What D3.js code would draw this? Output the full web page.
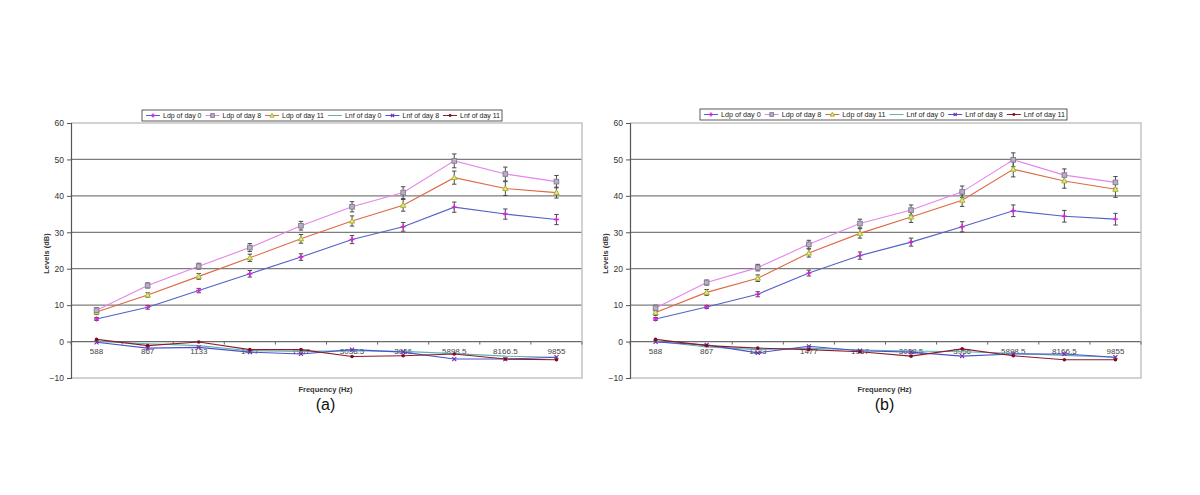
<!DOCTYPE html>
<html>
<head>
<meta charset="utf-8">
<script src="https://cdn.jsdelivr.net/npm/d3@7"></script>
<style>
  body { margin: 0; background: #fff; }
  svg { display: block; font-family: Arial, "Liberation Sans", sans-serif; }
</style>
</head>
<body>
<svg id="chart" width="1200" height="495"></svg>
<script>
// categories (Hz) and axis ticks
var freqs = ["588", "867", "1133", "1477", "1967", "3038.5", "3956", "5898.5", "8166.5", "9855"];
var yTicks = [-10, 0, 10, 20, 30, 40, 50, 60];
var seriesNames = ["Ldp of day 0", "Ldp of day 8", "Ldp of day 11", "Lnf of day 0", "Lnf of day 8", "Lnf of day 11"];

// panel (a)
var aLdp0 = [6.2, 9.4, 14.0, 18.6, 23.2, 28.0, 31.5, 36.9, 35.0, 33.5];
var aLdp0Err = [0.4, 0.5, 0.6, 0.9, 0.9, 1.1, 1.2, 1.4, 1.4, 1.4];
var aLdp8 = [8.6, 15.4, 20.7, 25.8, 31.8, 37.0, 40.9, 49.6, 46.0, 43.9];
var aLdp8Err = [0.7, 0.7, 0.8, 1.1, 1.2, 1.4, 1.6, 1.9, 1.9, 1.7];
var aLdp11 = [8.1, 12.8, 17.9, 23.0, 28.2, 33.1, 37.4, 45.0, 42.0, 40.9];
var aLdp11Err = [0.7, 0.6, 0.8, 1.0, 1.2, 1.4, 1.6, 1.8, 1.9, 1.5];
var aLnf0 = [0.1, -0.6, -1.1, -2.5, -2.7, -2.5, -2.7, -3.3, -4.0, -4.3];
var aLnf8 = [-0.2, -1.8, -1.6, -2.9, -3.4, -2.2, -2.9, -4.8, -4.8, -4.3];
var aLnf11 = [0.6, -1.1, -0.1, -2.2, -2.2, -4.1, -3.9, -3.4, -4.8, -5.0];

// panel (b)
var bLdp0 = [6.2, 9.5, 13.0, 18.8, 23.6, 27.3, 31.5, 35.9, 34.4, 33.6];
var bLdp0Err = [0.4, 0.4, 0.7, 0.8, 1.0, 1.1, 1.4, 1.6, 1.6, 1.6];
var bLdp8 = [9.2, 16.2, 20.3, 26.7, 32.4, 36.1, 41.1, 49.9, 45.7, 43.7];
var bLdp8Err = [0.8, 0.7, 0.9, 1.1, 1.2, 1.4, 1.6, 1.9, 1.7, 1.6];
var bLdp11 = [8.0, 13.5, 17.4, 24.3, 29.7, 34.2, 38.8, 47.3, 44.1, 41.8];
var bLdp11Err = [0.8, 0.8, 0.9, 1.1, 1.3, 1.5, 1.7, 2.1, 2.0, 2.2];
var bLnf0 = [0.1, -1.5, -2.2, -1.8, -2.3, -2.6, -2.8, -3.2, -3.8, -4.3];
var bLnf8 = [-0.1, -0.9, -3.1, -1.3, -2.5, -2.9, -4.0, -3.4, -3.4, -4.3];
var bLnf11 = [0.6, -1.1, -1.8, -2.2, -2.8, -4.0, -2.0, -3.9, -5.0, -5.0];

var styles = [
    { line: "#5262c6", marker: "plus", mcolor: "#d81ed8" },
    { line: "#e484ec", marker: "square", mcolor: "#8a7f98" },
    { line: "#df6844", marker: "triangle", mcolor: "#a6b52a" },
    { line: "#5fb3b0", marker: "none", mcolor: "#5fb3b0" },
    { line: "#4a52cc", marker: "cross", mcolor: "#7a2aa8" },
    { line: "#8a1c2c", marker: "dot", mcolor: "#7a0f1f" }
];

var svg = d3.select("#chart");
svg.append("rect").attr("width", 1200).attr("height", 495).attr("fill", "#fff");

drawPanel(svg, {
    values: [aLdp0, aLdp8, aLdp11, aLnf0, aLnf8, aLnf11],
    errors: [aLdp0Err, aLdp8Err, aLdp11Err, null, null, null],
    left: 71, right: 582, top: 123, bottom: 378,
    legend: { x: 142, y: 110, w: 360, h: 11 },
    label: "(a)"
});

drawPanel(svg, {
    values: [bLdp0, bLdp8, bLdp11, bLnf0, bLnf8, bLnf11],
    errors: [bLdp0Err, bLdp8Err, bLdp11Err, null, null, null],
    left: 630, right: 1141, top: 123, bottom: 378,
    legend: { x: 700, y: 109, w: 367, h: 11 },
    label: "(b)"
});

function drawPanel(svg, p) {
    var xs = d3.scalePoint().domain(freqs).range([p.left, p.right]).padding(0.5);
    var ys = d3.scaleLinear().domain([-10, 60]).range([p.bottom, p.top]);
    var step = xs.step();
    var g = svg.append("g");

    // gridlines
    g.selectAll(".grid")
        .data(yTicks.filter(d => d > -10 && d < 60))
        .enter().append("line")
        .attr("x1", p.left).attr("x2", p.right)
        .attr("y1", d => ys(d)).attr("y2", d => ys(d))
        .attr("stroke", d => d == 0 ? "#6a6a6a" : "#7d7d7d")
        .attr("stroke-width", 1.3);

    // plot border (top, right, bottom)
    g.append("path")
        .attr("d", `M${p.left},${p.top}H${p.right}V${p.bottom}H${p.left}`)
        .attr("fill", "none").attr("stroke", "#c4c4c4").attr("stroke-width", 1.5);

    // y axis
    var yAxis = d3.axisLeft(ys).tickValues(yTicks).tickSize(4).tickPadding(3);
    var ya = g.append("g").attr("transform", `translate(${p.left},0)`).call(yAxis);
    ya.select(".domain").attr("stroke", "#555").attr("stroke-width", 1.2);
    ya.selectAll(".tick line").attr("stroke", "#555");
    ya.selectAll("text").attr("fill", "#333").style("font-size", "8.5px");

    g.append("text")
        .attr("transform", `translate(${p.left - 22},${(p.top + p.bottom) / 2 + 3}) rotate(-90)`)
        .attr("text-anchor", "middle")
        .style("font-size", "7.5px").style("font-weight", "bold").attr("fill", "#333")
        .text("Levels (dB)");

    // category axis crossing at 0
    var boundaries = d3.range(freqs.length + 1).map(i => p.left + i * step);
    g.selectAll(".xtick").data(boundaries).enter().append("line")
        .attr("x1", d => d).attr("x2", d => d)
        .attr("y1", ys(0)).attr("y2", ys(0) + 3)
        .attr("stroke", "#666");
    g.selectAll(".xlab").data(freqs).enter().append("text")
        .attr("x", d => xs(d)).attr("y", ys(0) + 12)
        .attr("text-anchor", "middle")
        .style("font-size", "8px").attr("fill", "#444")
        .text(d => d);

    g.append("text")
        .attr("x", (p.left + p.right) / 2 - 1).attr("y", 392)
        .attr("text-anchor", "middle")
        .style("font-size", "7.5px").style("font-weight", "bold").attr("fill", "#333")
        .text("Frequency (Hz)");

    g.append("text")
        .attr("x", (p.left + p.right) / 2 - 1).attr("y", 410)
        .attr("text-anchor", "middle")
        .style("font-size", "16px").attr("fill", "#111")
        .text(p.label);

    // lines
    var line = d3.line().x((d, i) => xs(freqs[i])).y(d => ys(d));
    var order = [3, 4, 5, 0, 2, 1];
    order.forEach(function (k) {
        g.append("path")
            .datum(p.values[k])
            .attr("fill", "none")
            .attr("stroke", styles[k].line)
            .attr("stroke-width", 1.1)
            .attr("d", line);
    });

    // error bars
    order.forEach(function (k) {
        if (!p.errors[k]) return;
        var eb = g.append("g");
        p.values[k].forEach(function (v, i) {
            var x = xs(freqs[i]);
            var e = p.errors[k][i];
            var y1 = ys(v + e), y2 = ys(v - e);
            eb.append("path")
                .attr("d", `M${x},${y1}V${y2}M${x - 2.2},${y1}H${x + 2.2}M${x - 2.2},${y2}H${x + 2.2}`)
                .attr("stroke", "#4a4a4a").attr("stroke-width", 1).attr("fill", "none");
        });
    });

    // markers
    order.forEach(function (k) {
        var mg = g.append("g");
        p.values[k].forEach(function (v, i) {
            drawMarker(mg, styles[k], xs(freqs[i]), ys(v), 1);
        });
    });

    // legend: sample (14px) + gap, text squeezed so the six entries fill the box
    var L = p.legend;
    var lg = svg.append("g");
    lg.append("rect")
        .attr("x", L.x).attr("y", L.y).attr("width", L.w).attr("height", L.h)
        .attr("fill", "#fff").attr("stroke", "#333").attr("stroke-width", 0.8);
    var cy = L.y + L.h / 2;
    var sample = 14, gapA = 3, gapB = 4;
    var texts = seriesNames.map(function (name) {
        return lg.append("text")
            .attr("y", cy + 2.7)
            .style("font-size", "7.4px").attr("fill", "#222")
            .text(name);
    });
    var widths = texts.map(t => t.node().getComputedTextLength());
    var avail = L.w - 6 - seriesNames.length * (sample + gapA + gapB) + gapB;
    var f = Math.min(1, avail / d3.sum(widths));
    var cx = L.x + 4;
    seriesNames.forEach(function (name, k) {
        lg.append("line")
            .attr("x1", cx).attr("x2", cx + sample).attr("y1", cy).attr("y2", cy)
            .attr("stroke", styles[k].line).attr("stroke-width", 1);
        drawMarker(lg, styles[k], cx + sample / 2, cy, 0.8);
        var w = widths[k] * f;
        texts[k].attr("x", cx + sample + gapA)
            .attr("textLength", w).attr("lengthAdjust", "spacingAndGlyphs");
        cx += sample + gapA + w + gapB;
    });
}

function drawMarker(g, st, x, y, s) {
    var c = st.mcolor;
    if (st.marker == "plus") {
        g.append("path").attr("d", `M${x - 2.5 * s},${y}H${x + 2.5 * s}M${x},${y - 2.5 * s}V${y + 2.5 * s}`)
            .attr("stroke", c).attr("stroke-width", 1.4);
    } else if (st.marker == "square") {
        g.append("rect").attr("x", x - 2.3 * s).attr("y", y - 2.3 * s)
            .attr("width", 4.6 * s).attr("height", 4.6 * s)
            .attr("fill", "#b8b0c4").attr("stroke", c).attr("stroke-width", 1);
    } else if (st.marker == "triangle") {
        g.append("path").attr("d", `M${x},${y - 2.8 * s}L${x + 2.7 * s},${y + 2 * s}L${x - 2.7 * s},${y + 2 * s}Z`)
            .attr("fill", "#e3e98a").attr("stroke", c).attr("stroke-width", 1);
    } else if (st.marker == "cross") {
        g.append("path").attr("d", `M${x - 2 * s},${y - 2 * s}L${x + 2 * s},${y + 2 * s}M${x - 2 * s},${y + 2 * s}L${x + 2 * s},${y - 2 * s}`)
            .attr("stroke", c).attr("stroke-width", 1.1);
    } else if (st.marker == "dot") {
        g.append("circle").attr("cx", x).attr("cy", y).attr("r", 1.8 * s).attr("fill", c);
    }
}
</script>
</body>
</html>
